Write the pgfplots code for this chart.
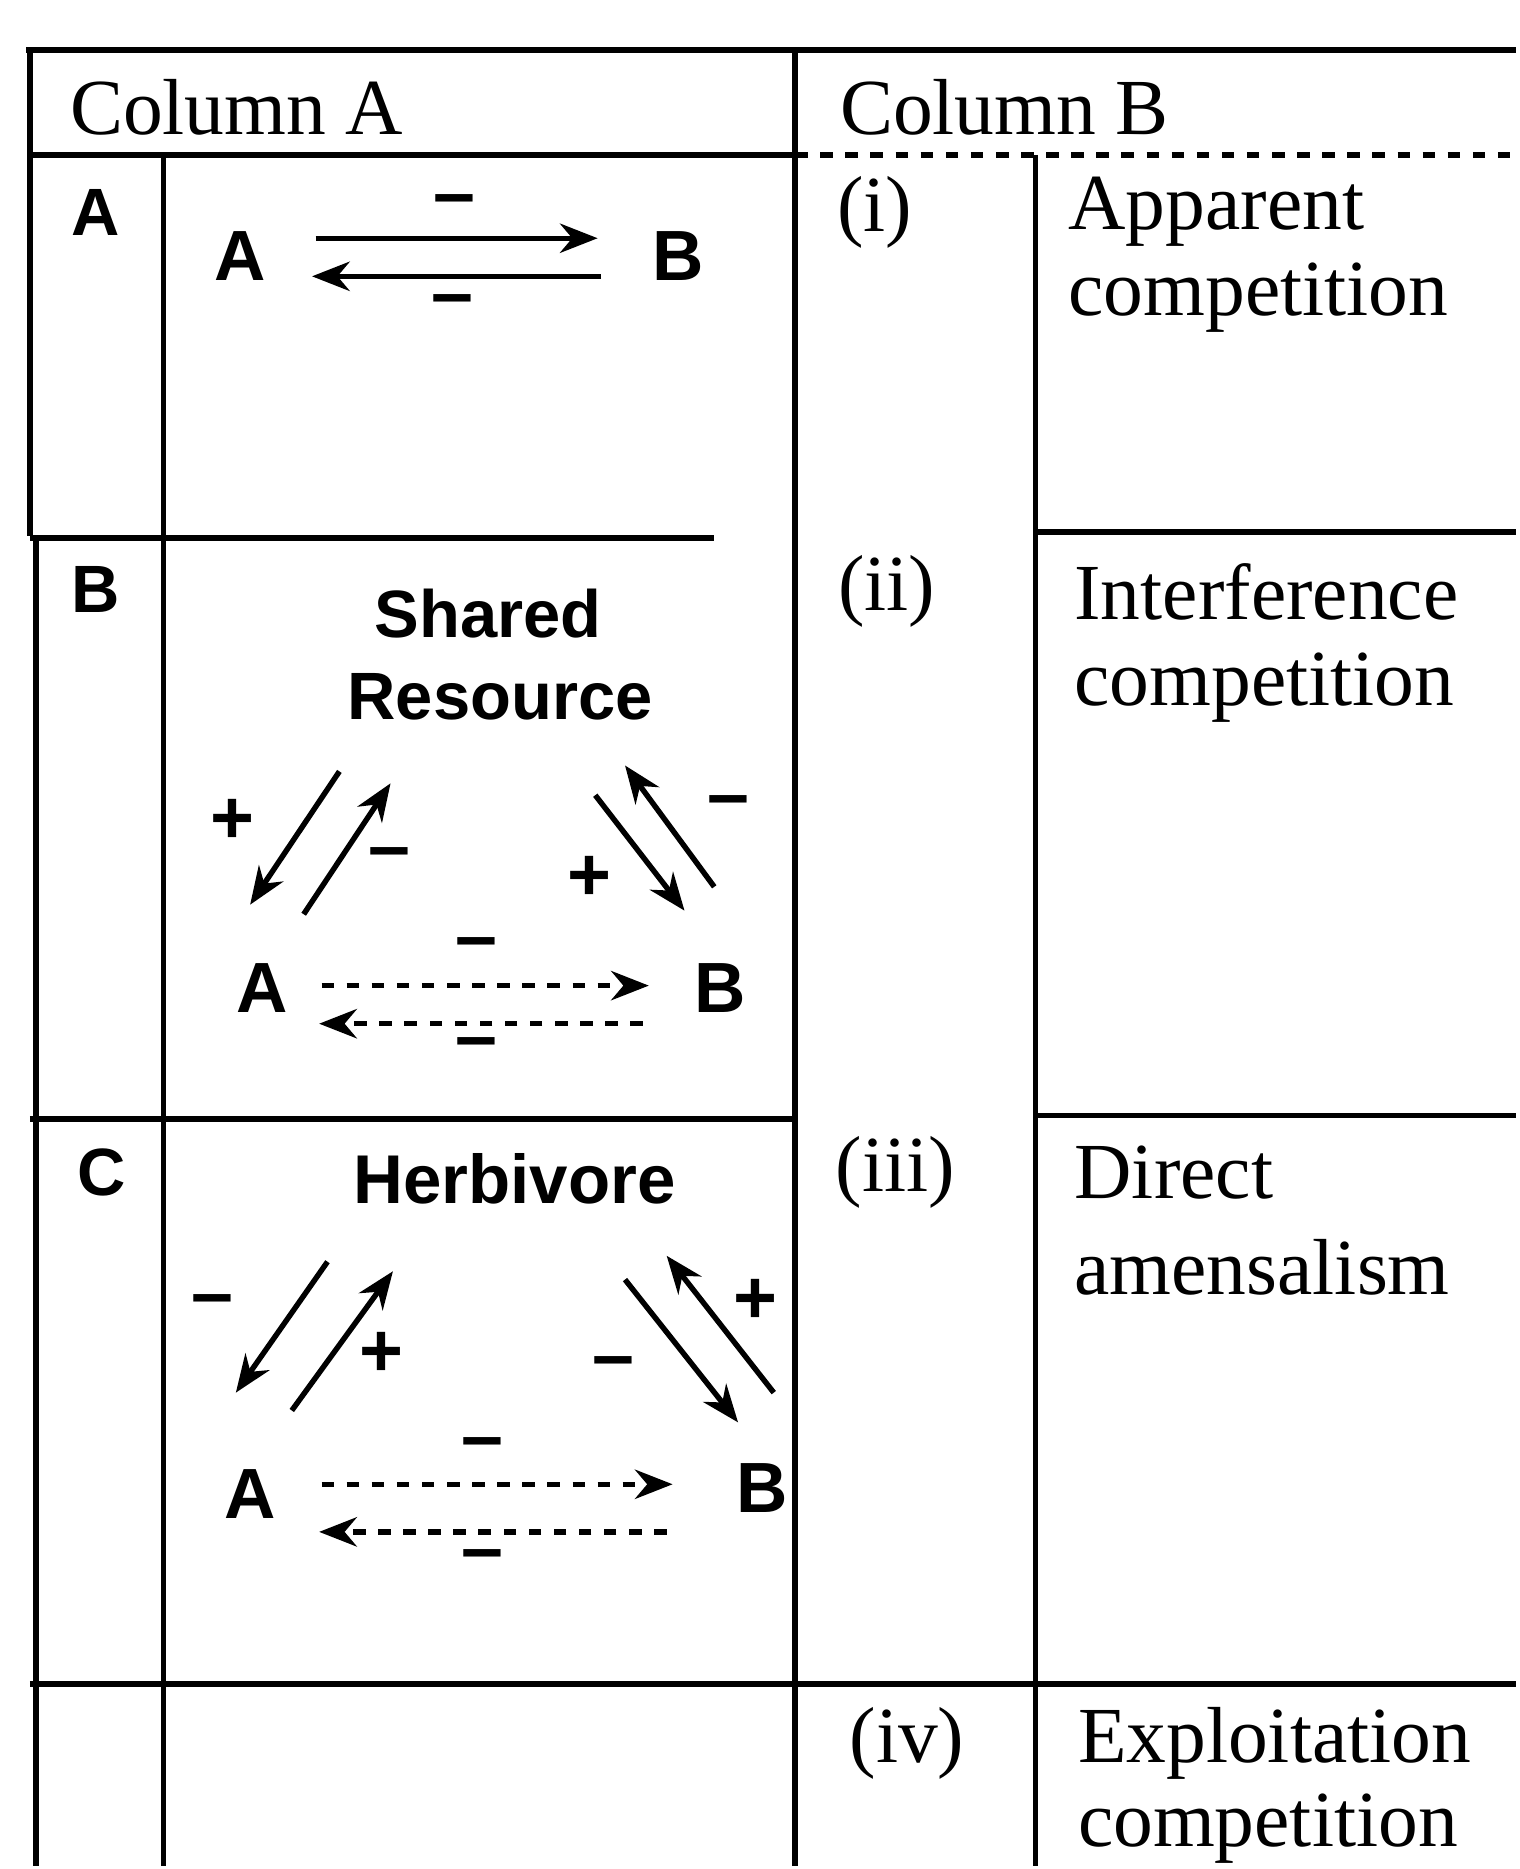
\documentclass[border=0pt]{standalone}
\usepackage{fontspec}
\setmainfont{Liberation Serif}
\newfontfamily\lab{Liberation Sans}
\usepackage{pgfplots}
\pgfplotsset{compat=1.18}
\usetikzlibrary{arrows.meta}
\begin{document}
\begin{tikzpicture}[every node/.style={inner sep=0pt}]
\begin{axis}[
    scale only axis, width=12.74cm, height=15.68cm,
    xmin=0, xmax=1274, ymin=0, ymax=1568, y dir=reverse,
    hide axis, clip=false,
]
% page frame (invisible)
\addplot[draw=white, line width=0.1pt] coordinates {(0,0) (1274,0) (1274,1568) (0,1568) (0,0)};

% table rules
\pgfplotsset{rule/.style={black, line width=1.3pt}}
\addplot[rule] coordinates {(22,42) (1274,42)};
\addplot[rule] coordinates {(25,130) (668,130)};
\addplot[rule, dashed] coordinates {(668,130) (1274,130)};
\addplot[rule] coordinates {(25,42) (25,450)};
\addplot[rule] coordinates {(30,450) (30,1568)};
\addplot[rule] coordinates {(137,130) (137,1568)};
\addplot[rule] coordinates {(668,42) (668,1568)};
\addplot[rule] coordinates {(870,130) (870,1568)};
\addplot[rule] coordinates {(25,452) (600,452)};
\addplot[rule] coordinates {(870,447) (1274,447)};
\addplot[rule] coordinates {(25,940) (668,940)};
\addplot[rule] coordinates {(870,937) (1274,937)};
\addplot[rule] coordinates {(25,1415) (1274,1415)};

% arrows
\pgfplotsset{arr/.style={black, line width=1.3pt, -{Stealth[length=9pt,width=7pt]}}}
% row A
\addplot[arr] coordinates {(265,200) (502,200)};
\addplot[arr] coordinates {(505,232) (262,232)};
% row B
\addplot[arr] coordinates {(285,648) (210,760)};
\addplot[arr] coordinates {(255,768) (328,658)};
\addplot[arr] coordinates {(600,745) (525,643)};
\addplot[arr] coordinates {(500,668) (575,765)};
\addplot[arr, dashed] coordinates {(270,828) (545,828)};
\addplot[arr, dashed] coordinates {(540,860) (268,860)};
% row C
\addplot[arr] coordinates {(275,1060) (198,1170)};
\addplot[arr] coordinates {(245,1185) (330,1068)};
\addplot[arr] coordinates {(650,1170) (560,1055)};
\addplot[arr] coordinates {(525,1075) (620,1195)};
\addplot[arr, dashed] coordinates {(270,1247) (565,1247)};
\addplot[arr, dashed] coordinates {(560,1287) (268,1287)};

% header
\node[anchor=west, font=\fontsize{19}{22}\selectfont] at (axis cs:58,90) {Column A};
\node[anchor=west, font=\fontsize{19}{22}\selectfont] at (axis cs:705,90) {Column B};

% row letters
\node[font=\lab\bfseries\fontsize{16}{19}\selectfont] at (axis cs:80,178) {A};
\node[font=\lab\bfseries\fontsize{16}{19}\selectfont] at (axis cs:80,495) {B};
\node[font=\lab\bfseries\fontsize{16}{19}\selectfont] at (axis cs:85,985) {C};

% diagram labels
\node[font=\lab\bfseries\fontsize{17}{20}\selectfont] at (axis cs:202,215) {A};
\node[font=\lab\bfseries\fontsize{17}{20}\selectfont] at (axis cs:570,215) {B};
\node[font=\lab\bfseries\fontsize{18}{20}\selectfont] at (axis cs:382,173) {–};
\node[font=\lab\bfseries\fontsize{18}{20}\selectfont] at (axis cs:380,257) {–};

\node[font=\lab\bfseries\fontsize{16}{19}\selectfont] at (axis cs:410,515) {Shared};
\node[font=\lab\bfseries\fontsize{16}{19}\selectfont] at (axis cs:420,585) {Resource};
\node[font=\lab\bfseries\fontsize{18}{20}\selectfont] at (axis cs:195,690) {+};
\node[font=\lab\bfseries\fontsize{18}{20}\selectfont] at (axis cs:327,722) {–};
\node[font=\lab\bfseries\fontsize{18}{20}\selectfont] at (axis cs:612,678) {–};
\node[font=\lab\bfseries\fontsize{18}{20}\selectfont] at (axis cs:495,738) {+};
\node[font=\lab\bfseries\fontsize{17}{20}\selectfont] at (axis cs:220,830) {A};
\node[font=\lab\bfseries\fontsize{17}{20}\selectfont] at (axis cs:605,830) {B};
\node[font=\lab\bfseries\fontsize{18}{20}\selectfont] at (axis cs:400,798) {–};
\node[font=\lab\bfseries\fontsize{18}{20}\selectfont] at (axis cs:400,882) {–};

\node[font=\lab\bfseries\fontsize{16.5}{19}\selectfont] at (axis cs:432,990) {Herbivore};
\node[font=\lab\bfseries\fontsize{18}{20}\selectfont] at (axis cs:178,1098) {–};
\node[font=\lab\bfseries\fontsize{18}{20}\selectfont] at (axis cs:320,1138) {+};
\node[font=\lab\bfseries\fontsize{18}{20}\selectfont] at (axis cs:635,1093) {+};
\node[font=\lab\bfseries\fontsize{18}{20}\selectfont] at (axis cs:515,1150) {–};
\node[font=\lab\bfseries\fontsize{17}{20}\selectfont] at (axis cs:210,1255) {A};
\node[font=\lab\bfseries\fontsize{17}{20}\selectfont] at (axis cs:640,1250) {B};
\node[font=\lab\bfseries\fontsize{18}{20}\selectfont] at (axis cs:405,1218) {–};
\node[font=\lab\bfseries\fontsize{18}{20}\selectfont] at (axis cs:405,1312) {–};

% column B
\node[font=\fontsize{19}{22}\selectfont] at (axis cs:735,178) {(i)};
\node[font=\fontsize{19}{22}\selectfont] at (axis cs:745,497) {(ii)};
\node[font=\fontsize{19}{22}\selectfont] at (axis cs:752,985) {(iii)};
\node[font=\fontsize{19}{22}\selectfont] at (axis cs:762,1465) {(iv)};

\node[anchor=west, font=\fontsize{19}{22}\selectfont] at (axis cs:897,178) {Apparent};
\node[anchor=west, font=\fontsize{19}{22}\selectfont] at (axis cs:897,250) {competition};
\node[anchor=west, font=\fontsize{19}{22}\selectfont] at (axis cs:902,497) {Interference};
\node[anchor=west, font=\fontsize{19}{22}\selectfont] at (axis cs:902,578) {competition};
\node[anchor=west, font=\fontsize{19}{22}\selectfont] at (axis cs:902,985) {Direct};
\node[anchor=west, font=\fontsize{19}{22}\selectfont] at (axis cs:902,1065) {amensalism};
\node[anchor=west, font=\fontsize{19}{22}\selectfont] at (axis cs:905,1465) {Exploitation};
\node[anchor=west, font=\fontsize{19}{22}\selectfont] at (axis cs:905,1536) {competition};
\end{axis}
\end{tikzpicture}
\end{document}
